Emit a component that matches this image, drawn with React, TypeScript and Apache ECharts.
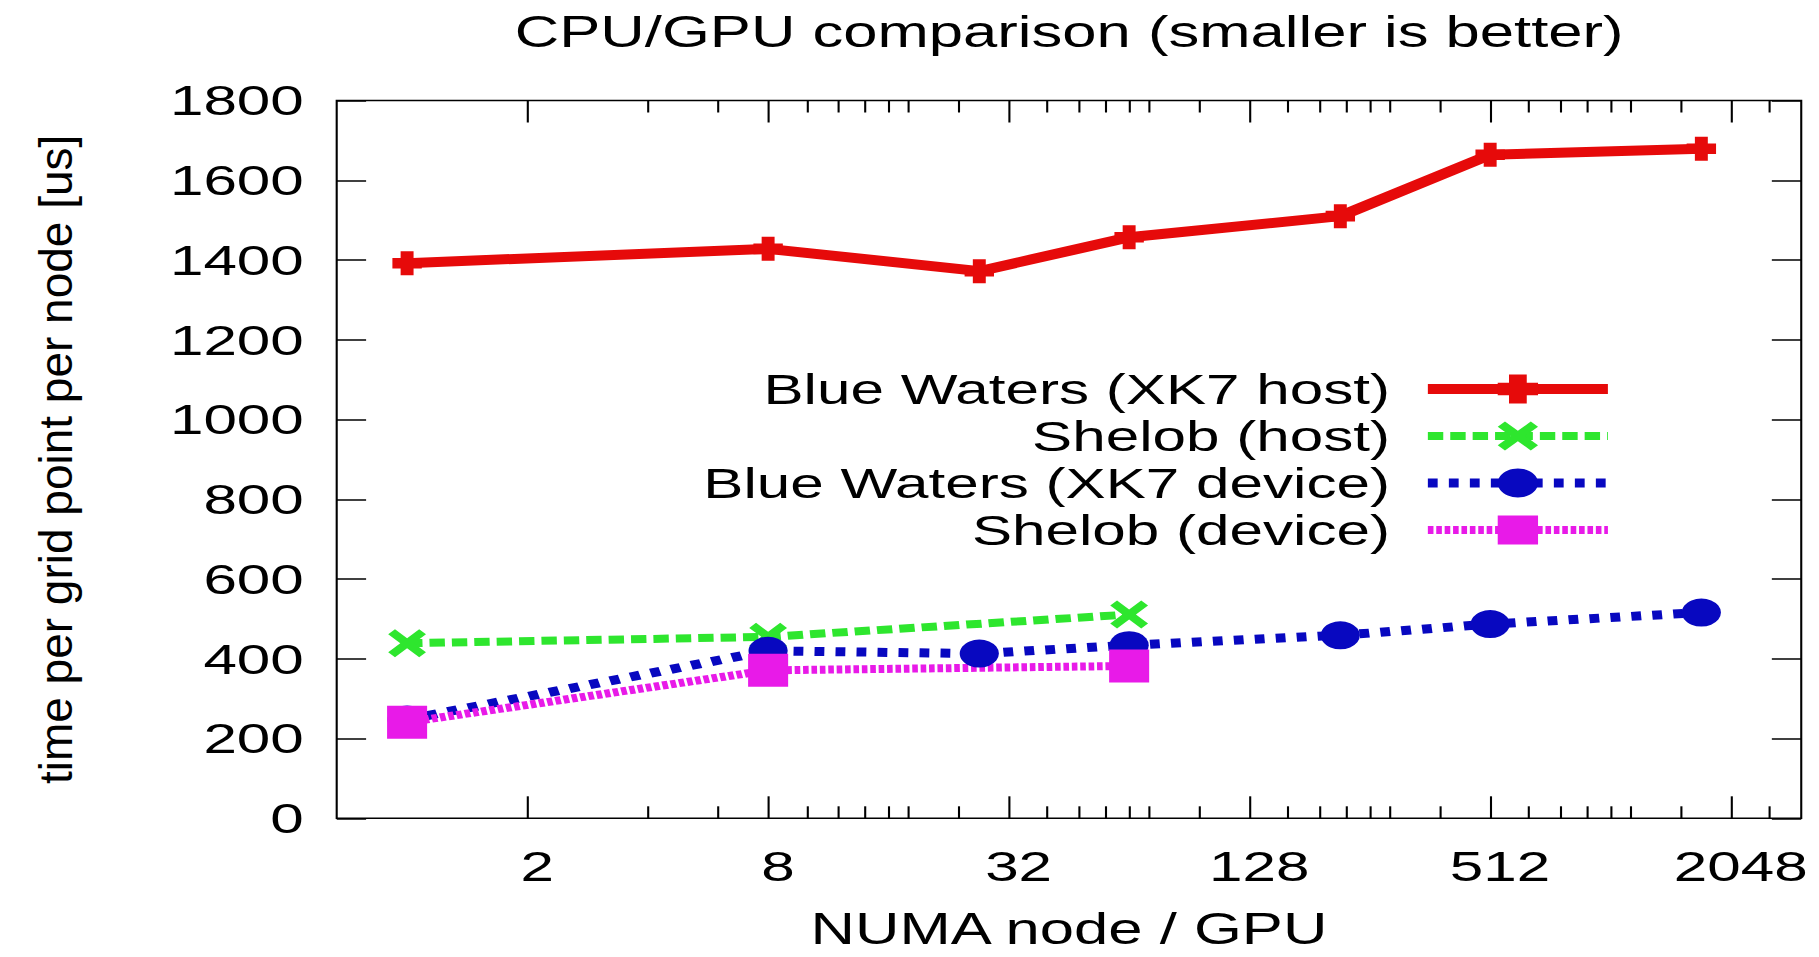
import React, { useEffect, useRef } from 'react';
import * as echarts from 'echarts';

// ---------- data ----------
const chartTitle = 'CPU/GPU comparison (smaller is better)';
const xAxisName = 'NUMA node / GPU';
const yAxisName = 'time per grid point per node [us]';

const seriesNames = [
  'Blue Waters (XK7 host)',
  'Shelob (host)',
  'Blue Waters (XK7 device)',
  'Shelob (device)',
];

// NUMA nodes / GPUs
const xBlueWaters = [1, 8, 27, 64, 216, 512, 1728];
const xShelob = [1, 8, 64];

// time per grid point per node [us]
const bwHost = [1392, 1428, 1372, 1457, 1510, 1664, 1679];
const shelobHost = [439, 455, 511];
const bwDevice = [248, 420, 413, 434, 459, 487, 516];
const shelobDevice = [241, 371, 382];

const xMajorTicks = [2, 8, 32, 128, 512, 2048];
const xMinorTicks = [4, 6, 10, 12, 14, 16, 18, 24, 40, 48, 56, 64, 72, 96, 160, 192, 224, 256, 288, 384, 640, 768, 896, 1024, 1152, 1536, 2560];
const X_MIN = 2 / 3;
const X_MAX = 3072;
const Y_MIN = 0;
const Y_MAX = 1800;
const Y_STEP = 200;

// ---------- layout / style ----------
const S = 1.4; // horizontal stretch of the original picture
const H = 957;
const W = 1819 / S;
const FONT = '"Liberation Sans", Arial, Helvetica, sans-serif';

const COLORS = ['#e60a0a', '#2ee62e', '#0808c0', '#e81ae8'];
const LINE_WIDTHS = [10, 8, 9, 8];
const LINE_TYPES: any[] = ['solid', [11, 5], [7, 8], [4, 2]];
const PLUS = 'path://M28,0H72V28H100V72H72V100H28V72H0V28H28Z';
const CROSS = 'path://M0,18L18,0L50,32L82,0L100,18L68,50L100,82L82,100L50,68L18,100L0,82L32,50Z';
const SYMBOLS = [PLUS, CROSS, 'circle', 'rect'];
const SYMBOL_SIZES = [[21, 24], [27, 28], [28, 28], [28.6, 33]];

const lmin = Math.log2(X_MIN);
const lmax = Math.log2(X_MAX);

function tickAxis(position: 'top' | 'bottom', values: number[], len: number, withLabels: boolean): any {
  return {
    type: 'value',
    position,
    min: lmin,
    max: lmax,
    axisLine: { show: false, onZero: false },
    splitLine: { show: false },
    axisTick: {
      show: true,
      inside: true,
      length: len,
      customValues: values.map((v) => Math.log2(v)),
      lineStyle: { color: '#000', width: 1.5 },
    },
    axisLabel: withLabels
      ? {
          show: true,
          customValues: xMajorTicks.map((v) => Math.log2(v)),
          formatter: (v: number) => String(Math.round(Math.pow(2, v))),
          fontSize: 43,
          fontFamily: FONT,
          color: '#000',
          margin: 26,
          padding: [0, 0, 0, 14],
        }
      : { show: false },
    ...(withLabels
      ? {
          name: xAxisName,
          nameLocation: 'middle',
          nameGap: 88,
          nameTextStyle: { fontSize: 44, fontFamily: FONT, color: '#000' },
        }
      : {}),
  };
}

function yAxisDef(position: 'left' | 'right', withLabels: boolean): any {
  return {
    type: 'value',
    position,
    min: Y_MIN,
    max: Y_MAX,
    interval: Y_STEP,
    axisLine: { show: false, onZero: false },
    splitLine: { show: false },
    axisTick: { show: true, inside: true, length: 21, lineStyle: { color: '#000', width: 1.5 } },
    axisLabel: withLabels
      ? {
          show: true,
          fontSize: 43,
          fontFamily: FONT,
          color: '#000',
          margin: 23.5,
          formatter: (v: number) => String(v),
        }
      : { show: false },
  };
}

const pairs = (xs: number[], ys: number[]) => xs.map((x, i) => [x, ys[i]]);
const seriesData = [
  pairs(xBlueWaters, bwHost),
  pairs(xShelob, shelobHost),
  pairs(xBlueWaters, bwDevice),
  pairs(xShelob, shelobDevice),
];

export default function App() {
  const ref = useRef<HTMLDivElement>(null);

  useEffect(() => {
    document.documentElement.style.overflow = 'hidden';
    document.body.style.margin = '0';
    document.body.style.overflow = 'hidden';
    const chart = echarts.init(ref.current as HTMLDivElement, null, { renderer: 'svg' });

    const option: any = {
      animation: false,
      backgroundColor: '#fff',
      textStyle: { fontFamily: FONT, color: '#000' },
      title: {
        text: chartTitle,
        left: 763.7,
        top: 10,
        padding: 0,
        textAlign: 'center',
        textStyle: { fontSize: 44, fontWeight: 'normal', fontFamily: FONT, color: '#000' },
      },
      grid: {
        left: 240.5,
        right: 12.4,
        top: 100.5,
        bottom: 138.7,
        show: true,
        borderColor: '#000',
        borderWidth: 1.5,
        backgroundColor: 'transparent',
        containLabel: false,
        outerBoundsMode: 'none',
      },
      legend: {
        orient: 'vertical',
        align: 'right',
        right: 145.5,
        top: 367.5,
        padding: 0,
        itemGap: 4,
        itemWidth: 128.6,
        itemHeight: 36,
        selectedMode: false,
        data: seriesNames.map((name, i) => ({
          name,
          lineStyle: { color: COLORS[i], width: LINE_WIDTHS[i], type: LINE_TYPES[i] },
          itemStyle: { color: COLORS[i] },
        })),
        textStyle: { fontSize: 43, fontFamily: FONT, color: '#000', padding: [0, 22, 0, 0] },
      },
      xAxis: [
        {
          type: 'log',
          logBase: 2,
          min: X_MIN,
          max: X_MAX,
          position: 'bottom',
          axisLine: { show: false, onZero: false },
          axisTick: { show: false },
          axisLabel: { show: false },
          splitLine: { show: false },
        },
        tickAxis('bottom', xMajorTicks, 22, true),
        tickAxis('bottom', xMinorTicks, 12, false),
        tickAxis('top', xMajorTicks, 22, false),
        tickAxis('top', xMinorTicks, 12, false),
      ],
      yAxis: [yAxisDef('left', true), yAxisDef('right', false)],
      graphic: [
        {
          type: 'text',
          x: 39.8,
          y: 459.4,
          rotation: Math.PI / 2,
          scaleY: 1 / S,
          style: {
            text: yAxisName,
            fontSize: 46,
            fontFamily: FONT,
            fill: '#000',
            align: 'center',
            verticalAlign: 'middle',
          },
        },
      ],
      series: seriesNames.map((name, i) => ({
        name,
        type: 'line',
        xAxisIndex: 0,
        yAxisIndex: 0,
        data: seriesData[i],
        symbol: SYMBOLS[i],
        symbolSize: SYMBOL_SIZES[i],
        color: COLORS[i],
        lineStyle: { color: COLORS[i], width: LINE_WIDTHS[i], type: LINE_TYPES[i] },
        itemStyle: { color: COLORS[i] },
      })),
    };

    chart.setOption(option);
    return () => chart.dispose();
  }, []);

  return (
    <div
      ref={ref}
      style={{
        position: 'absolute',
        left: 0,
        top: 0,
        width: W,
        height: H,
        transform: `scaleX(${S})`,
        transformOrigin: '0 0',
        background: '#fff',
      }}
    />
  );
}
